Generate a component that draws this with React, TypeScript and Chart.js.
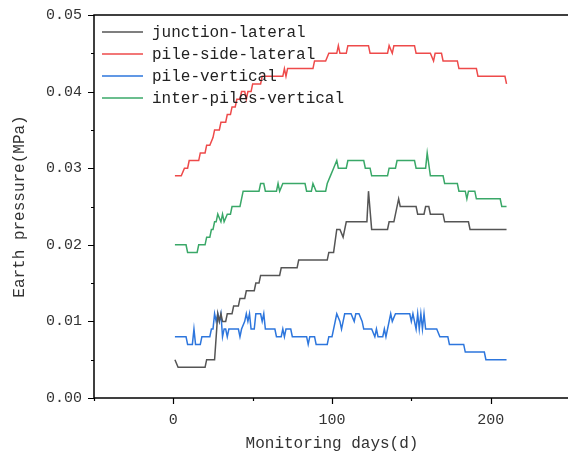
import React, { useEffect, useRef } from "react";
import { Chart, registerables } from "chart.js";

Chart.register(...registerables);

const seriesLabels = [
  "junction-lateral",
  "pile-side-lateral",
  "pile-vertical",
  "inter-piles-vertical",
];
const seriesColors = ["#555555", "#ee4a4a", "#2d76dd", "#3aa868"];

const junctionDays = [1, 3, 20, 21, 26, 28, 29, 30, 31, 33, 34, 37, 38, 41, 42, 45, 46, 51, 52, 54, 55, 67, 68, 78, 79, 97, 98, 101, 103, 105, 107, 109, 122, 123, 125, 135, 136, 139, 142, 143, 153, 154, 158, 159, 161, 162, 170, 171, 186, 187, 210];
const junctionValues = [0.005, 0.004, 0.004, 0.005, 0.005, 0.011, 0.010, 0.011, 0.010, 0.010, 0.011, 0.011, 0.012, 0.012, 0.013, 0.013, 0.014, 0.014, 0.015, 0.015, 0.016, 0.016, 0.017, 0.017, 0.018, 0.018, 0.019, 0.019, 0.022, 0.022, 0.021, 0.023, 0.023, 0.027, 0.022, 0.022, 0.023, 0.023, 0.026, 0.025, 0.025, 0.024, 0.024, 0.025, 0.025, 0.024, 0.024, 0.023, 0.023, 0.022, 0.022];

const sideDays = [1, 5, 7, 9, 10, 16, 17, 20, 21, 23, 25, 26, 29, 30, 33, 34, 36, 37, 39, 40, 42, 43, 45, 46, 47, 49, 50, 55, 56, 69, 70, 71, 72, 88, 89, 96, 98, 103, 104, 105, 109, 110, 123, 124, 135, 136, 138, 139, 152, 153, 162, 164, 165, 169, 170, 179, 180, 191, 192, 209, 210];
const sideValues = [0.029, 0.029, 0.030, 0.030, 0.031, 0.031, 0.032, 0.032, 0.033, 0.033, 0.034, 0.035, 0.035, 0.036, 0.036, 0.037, 0.037, 0.038, 0.038, 0.039, 0.039, 0.040, 0.040, 0.039, 0.040, 0.040, 0.041, 0.041, 0.042, 0.042, 0.043, 0.042, 0.043, 0.043, 0.044, 0.044, 0.045, 0.045, 0.046, 0.045, 0.045, 0.046, 0.046, 0.045, 0.045, 0.046, 0.045, 0.046, 0.046, 0.045, 0.045, 0.044, 0.045, 0.045, 0.044, 0.044, 0.043, 0.043, 0.042, 0.042, 0.041];

const verticalDays = [1, 8, 9, 12, 13, 14, 17, 18, 23, 24, 25, 26, 27, 28, 29, 30, 31, 32, 33, 34, 35, 41, 42, 43, 45, 46, 47, 48, 49, 51, 52, 55, 56, 57, 58, 64, 65, 68, 69, 70, 71, 74, 75, 84, 85, 86, 89, 90, 97, 98, 100, 101, 103, 105, 106, 108, 112, 114, 115, 117, 119, 120, 125, 127, 128, 129, 132, 133, 134, 136, 137, 138, 140, 149, 150, 151, 153, 154, 155, 156, 157, 158, 159, 166, 168, 173, 174, 183, 184, 196, 197, 210];
const verticalValues = [0.008, 0.008, 0.007, 0.007, 0.009, 0.007, 0.007, 0.008, 0.008, 0.009, 0.009, 0.011, 0.010, 0.011, 0.010, 0.011, 0.008, 0.009, 0.009, 0.008, 0.009, 0.009, 0.008, 0.009, 0.010, 0.011, 0.010, 0.011, 0.009, 0.009, 0.011, 0.011, 0.010, 0.011, 0.009, 0.009, 0.008, 0.008, 0.009, 0.008, 0.009, 0.009, 0.008, 0.008, 0.007, 0.008, 0.008, 0.007, 0.007, 0.008, 0.008, 0.009, 0.011, 0.010, 0.009, 0.011, 0.011, 0.010, 0.011, 0.011, 0.010, 0.009, 0.009, 0.008, 0.009, 0.008, 0.008, 0.009, 0.008, 0.010, 0.011, 0.010, 0.011, 0.011, 0.010, 0.011, 0.009, 0.011, 0.009, 0.011, 0.009, 0.011, 0.009, 0.009, 0.008, 0.008, 0.007, 0.007, 0.006, 0.006, 0.005, 0.005];

const interDays = [1, 8, 9, 15, 16, 20, 21, 23, 24, 25, 26, 27, 28, 30, 31, 32, 34, 36, 37, 42, 44, 54, 55, 57, 58, 65, 66, 67, 69, 83, 84, 87, 88, 90, 96, 97, 99, 101, 103, 104, 109, 110, 120, 121, 124, 125, 135, 136, 140, 141, 152, 153, 159, 160, 162, 170, 171, 179, 180, 184, 185, 186, 190, 191, 206, 207, 210];
const interValues = [0.020, 0.020, 0.019, 0.019, 0.020, 0.020, 0.021, 0.021, 0.022, 0.022, 0.023, 0.023, 0.024, 0.023, 0.024, 0.023, 0.024, 0.024, 0.025, 0.025, 0.027, 0.027, 0.028, 0.028, 0.027, 0.027, 0.028, 0.027, 0.028, 0.028, 0.027, 0.027, 0.028, 0.027, 0.027, 0.028, 0.029, 0.030, 0.031, 0.030, 0.030, 0.031, 0.031, 0.030, 0.030, 0.029, 0.029, 0.030, 0.030, 0.031, 0.031, 0.030, 0.030, 0.032, 0.029, 0.029, 0.028, 0.028, 0.027, 0.027, 0.026, 0.027, 0.027, 0.026, 0.026, 0.025, 0.025];

const xMajorTicks = [0, 100, 200];
const xMinorTicks = [-50, 50, 150, 250];
const yMajorTicks = [0, 0.01, 0.02, 0.03, 0.04, 0.05];
const yMinorTicks = [0.005, 0.015, 0.025, 0.035, 0.045];

const xTitle = "Monitoring days(d)";
const yTitle = "Earth pressure(MPa)";

const FONT = "'Liberation Mono', 'DejaVu Sans Mono', monospace";

const zip = (xs: number[], ys: number[]) => xs.map((x, i) => ({ x, y: ys[i] }));

const framePlugin = {
  id: "frameAndTicks",
  afterDraw(chart: any) {
    const { ctx, chartArea, scales } = chart;
    const { left, right, top, bottom } = chartArea;
    ctx.save();
    ctx.strokeStyle = "#000";
    ctx.lineWidth = 1.5;
    ctx.strokeRect(left, top, right - left, bottom - top);
    ctx.lineWidth = 1.2;
    ctx.beginPath();
    const xs = scales.x;
    const ys = scales.y;
    xMajorTicks.forEach((v) => {
      const p = Math.round(xs.getPixelForValue(v)) + 0.5;
      ctx.moveTo(p, bottom);
      ctx.lineTo(p, bottom + 6);
    });
    xMinorTicks.forEach((v) => {
      const p = Math.round(xs.getPixelForValue(v)) + 0.5;
      ctx.moveTo(p, bottom);
      ctx.lineTo(p, bottom + 3);
    });
    yMajorTicks.forEach((v) => {
      const p = Math.round(ys.getPixelForValue(v)) + 0.5;
      ctx.moveTo(left, p);
      ctx.lineTo(left - 6, p);
    });
    yMinorTicks.forEach((v) => {
      const p = Math.round(ys.getPixelForValue(v)) + 0.5;
      ctx.moveTo(left, p);
      ctx.lineTo(left - 3, p);
    });
    ctx.stroke();

    // legend
    const rows = [32, 54, 76, 98];
    ctx.font = `16px ${FONT}`;
    ctx.textBaseline = "middle";
    ctx.textAlign = "left";
    chart.data.datasets.forEach((ds: any, i: number) => {
      const y = rows[i];
      ctx.strokeStyle = ds.borderColor;
      ctx.lineWidth = 1.5;
      ctx.beginPath();
      ctx.moveTo(102, y);
      ctx.lineTo(143, y);
      ctx.stroke();
      ctx.fillStyle = "#222";
      ctx.fillText(ds.label, 152, y + 1);
    });
    ctx.restore();
  },
};

export default function App() {
  const ref = useRef<HTMLCanvasElement | null>(null);
  useEffect(() => {
    document.body.style.margin = "0";
    const canvas = ref.current!;
    const datasets = [
      zip(junctionDays, junctionValues),
      zip(sideDays, sideValues),
      zip(verticalDays, verticalValues),
      zip(interDays, interValues),
    ].map((data, i) => ({
      label: seriesLabels[i],
      data,
      borderColor: seriesColors[i],
      backgroundColor: seriesColors[i],
      borderWidth: 1.5,
      pointRadius: 0,
      tension: 0,
      fill: false,
    }));
    const chart = new Chart(canvas, {
      type: "line",
      data: { datasets },
      options: {
        responsive: false,
        animation: false,
        devicePixelRatio: 1,
        layout: { padding: { left: 0, top: 14, right: 10, bottom: 0 } },
        plugins: { legend: { display: false }, tooltip: { enabled: false } },
        scales: {
          x: {
            type: "linear",
            min: -50,
            max: 250,
            afterBuildTicks: (s: any) => {
              s.ticks = xMajorTicks.map((v) => ({ value: v }));
            },
            afterFit: (s: any) => {
              s.height = 61;
            },
            grid: { display: true, drawOnChartArea: false, color: "rgba(0,0,0,0)", tickLength: 6 },
            border: { display: false },
            ticks: { font: { family: FONT, size: 15 }, color: "#333", padding: 7, maxRotation: 0 },
            title: {
              display: true,
              text: xTitle,
              font: { family: FONT, size: 16 },
              color: "#333",
              padding: { top: 0, bottom: 6 },
            },
          },
          y: {
            type: "linear",
            min: 0,
            max: 0.05,
            afterBuildTicks: (s: any) => {
              s.ticks = yMajorTicks.map((v) => ({ value: v }));
            },
            afterFit: (s: any) => {
              s.width = 94;
            },
            grid: { display: true, drawOnChartArea: false, color: "rgba(0,0,0,0)", tickLength: 6 },
            border: { display: false },
            ticks: {
              font: { family: FONT, size: 15 },
              color: "#333",
              padding: 6,
              callback: (v: any) => Number(v).toFixed(2),
            },
            title: {
              display: true,
              text: yTitle,
              font: { family: FONT, size: 16 },
              color: "#333",
              padding: { top: 10, bottom: 0 },
            },
          },
        },
      },
      plugins: [framePlugin],
    });
    return () => chart.destroy();
  }, []);
  return (
    <div style={{ width: 568, height: 459, overflow: "hidden", position: "relative" }}>
      <canvas ref={ref} width={580} height={459} style={{ display: "block" }} />
    </div>
  );
}
